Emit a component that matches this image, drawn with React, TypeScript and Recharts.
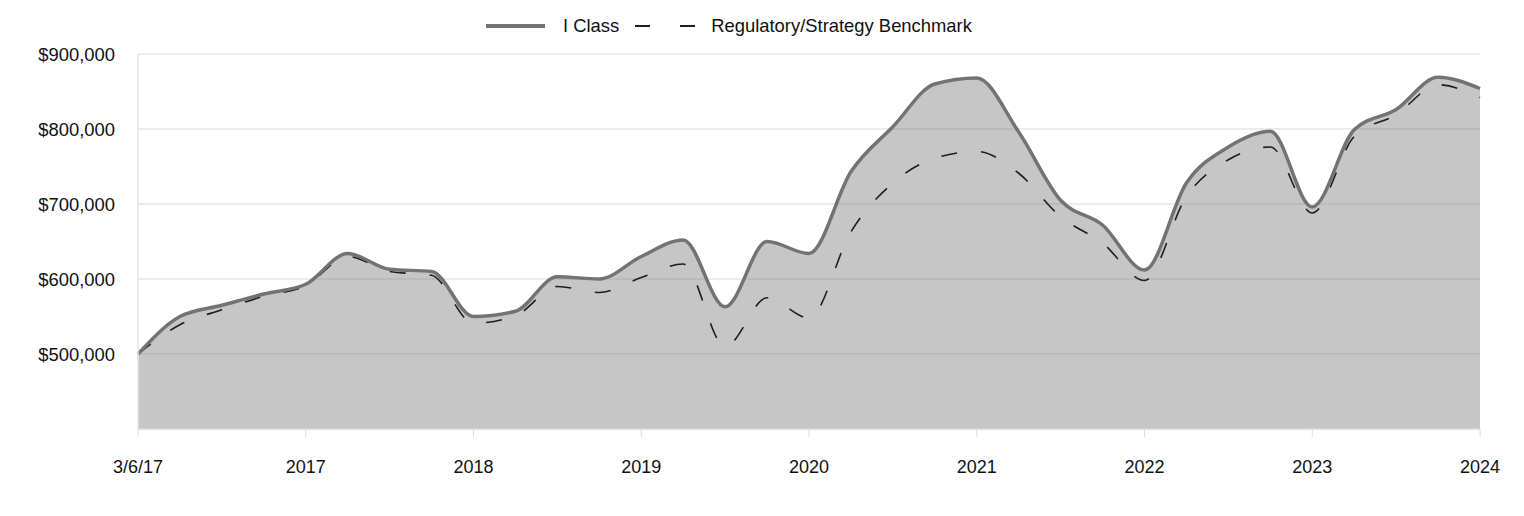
import React from "react";
import {
  ComposedChart,
  Area,
  Line,
  XAxis,
  YAxis,
  CartesianGrid,
  Legend,
} from "recharts";

// quarterly values, 3/6/17 through 2024
const iClass = [
  500000, 550000, 565000, 580000, 593000, 634000, 613000, 610000, 550000,
  557000, 603000, 600000, 630000, 652000, 563000, 650000, 634000, 743000,
  803000, 860000, 868000, 796000, 705000, 672000, 612000, 728000, 776000,
  797000, 696000, 799000, 826000, 869000, 854000,
];

const benchmark = [
  500000, 539000, 559000, 577000, 591000, 630000, 610000, 605000, 541000,
  551000, 590000, 582000, 602000, 620000, 510000, 575000, 548000, 663000,
  728000, 761000, 770000, 741000, 683000, 648000, 598000, 710000, 759000,
  776000, 688000, 790000, 819000, 859000, 842000,
];

const tickLabels = [
  "3/6/17",
  "2017",
  "2018",
  "2019",
  "2020",
  "2021",
  "2022",
  "2023",
  "2024",
];

const yTicks = [500000, 600000, 700000, 800000, 900000];

const data = iClass.map((v, i) => ({ idx: i, iClass: v, bench: benchmark[i] }));
const xTicks = tickLabels.map((_, i) => i * 4);

const FONT = "'Liberation Sans', Arial, Helvetica, sans-serif";

function renderLegend() {
  return (
    <div
      style={{
        height: 36,
        paddingLeft: 478,
        display: "flex",
        alignItems: "flex-start",
        fontSize: 18.4,
        color: "#111",
        fontFamily: FONT,
      }}
    >
      <div style={{ display: "flex", alignItems: "center", height: 16 }}>
        <svg width={59} height={6} style={{ marginRight: 18 }}>
          <line x1={0} y1={3} x2={59} y2={3} stroke="#737373" strokeWidth={4} />
        </svg>
        <span>I Class</span>
        <svg width={60} height={6} style={{ marginLeft: 16, marginRight: 16 }}>
          <line
            x1={0}
            y1={3}
            x2={60}
            y2={3}
            stroke="#1e1e1e"
            strokeWidth={2}
            strokeDasharray="15 30"
          />
        </svg>
        <span>Regulatory/Strategy Benchmark</span>
      </div>
    </div>
  );
}

export default function App() {
  return (
    <div style={{ width: 1508, height: 500, fontFamily: FONT }}>
      <ComposedChart
        width={1508}
        height={500}
        data={data}
        margin={{ top: 10, right: 36, bottom: 0, left: 0 }}
      >
        <CartesianGrid vertical={false} stroke="#e6e6e6" strokeWidth={1.5} />
        <XAxis
          dataKey="idx"
          type="number"
          domain={[0, 32]}
          ticks={xTicks}
          interval={0}
          tickFormatter={(v: number) => tickLabels[v / 4]}
          axisLine={{ stroke: "#dcdcdc", strokeWidth: 1.5 }}
          tickLine={{ stroke: "#dcdcdc" }}
          tickSize={8}
          tickMargin={23}
          height={79}
          tick={{ fill: "#111", fontSize: 18 }}
        />
        <YAxis
          domain={[400000, 900000]}
          ticks={yTicks}
          allowDataOverflow
          width={130}
          axisLine={{ stroke: "#e6e6e6", strokeWidth: 1.5 }}
          tickLine={false}
          tickSize={0}
          tickMargin={23}
          tickFormatter={(v: number) => "$" + v.toLocaleString("en-US")}
          tick={{ fill: "#111", fontSize: 18.4 }}
        />
        <Legend
          verticalAlign="top"
          align="left"
          content={renderLegend}
          wrapperStyle={{ left: 0, top: 10, width: 1508, height: 36 }}
        />
        <Area
          type="monotone"
          dataKey="iClass"
          stroke="none"
          fill="#808080"
          fillOpacity={0.45}
          isAnimationActive={false}
          dot={false}
          activeDot={false}
          legendType="none"
        />
        <Line
          type="monotone"
          dataKey="bench"
          stroke="#1e1e1e"
          strokeWidth={1.6}
          strokeDasharray="16 24"
          dot={false}
          activeDot={false}
          isAnimationActive={false}
        />
        <Line
          type="monotone"
          dataKey="iClass"
          stroke="#737373"
          strokeWidth={3.5}
          dot={false}
          activeDot={false}
          isAnimationActive={false}
        />
      </ComposedChart>
    </div>
  );
}
